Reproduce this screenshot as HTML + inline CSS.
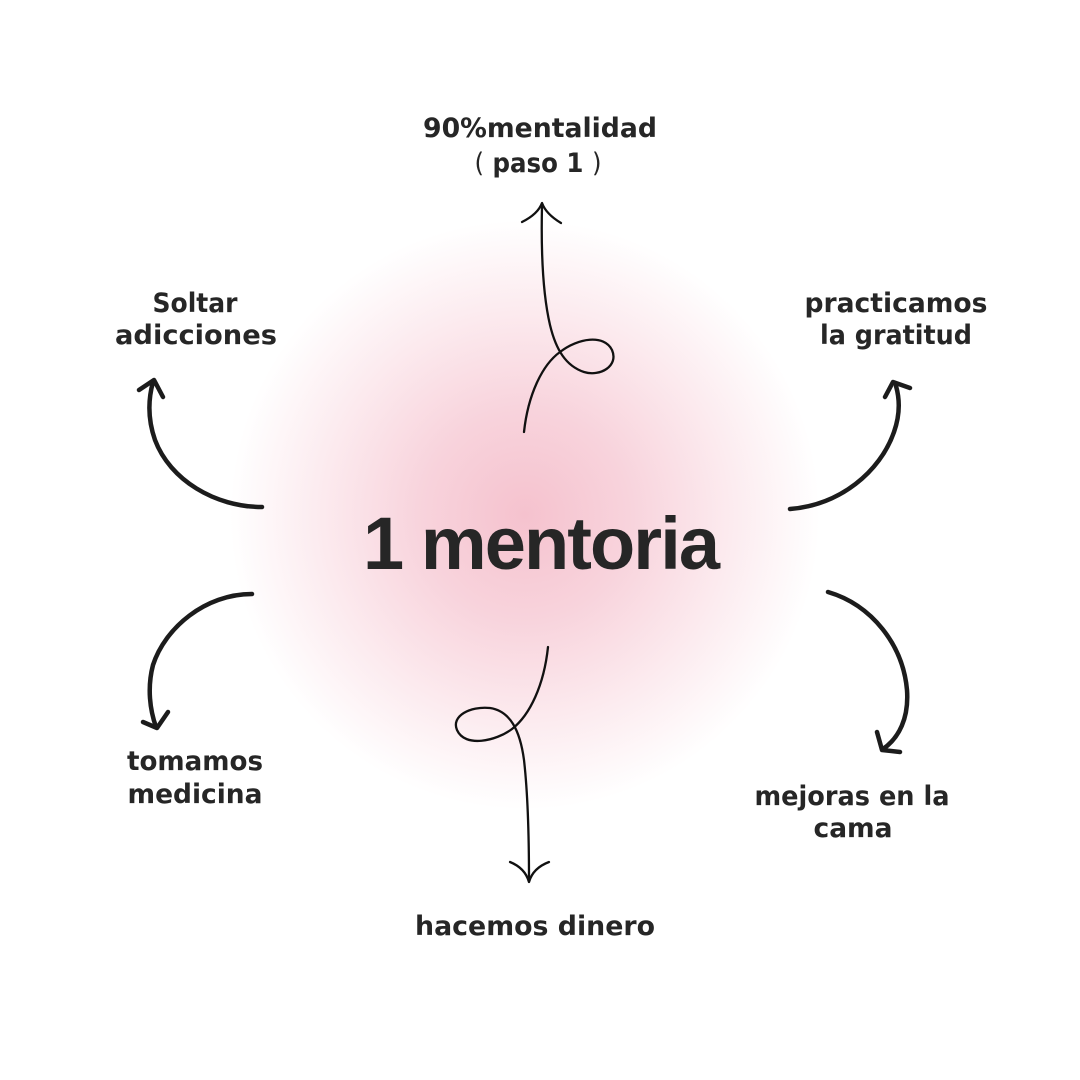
<!DOCTYPE html>
<html>
<head>
<meta charset="utf-8">
<style>
  html,body{margin:0;padding:0;background:#fff;}
  body{width:1080px;height:1080px;overflow:hidden;}
  svg{display:block;}
  .lbl{font-family:"DejaVu Sans","Liberation Sans",sans-serif;font-weight:bold;font-size:26.5px;fill:#262626;}
  .thin{font-weight:normal;}
  .big{font-family:"Liberation Sans",sans-serif;font-weight:bold;font-size:74px;fill:#262626;}
</style>
</head>
<body>
<svg width="1080" height="1080" viewBox="0 0 1080 1080" xmlns="http://www.w3.org/2000/svg">
  <defs>
    <radialGradient id="g" cx="525" cy="515" r="295" gradientUnits="userSpaceOnUse">
      <stop offset="0" stop-color="#f5c2ce"/>
      <stop offset="0.35" stop-color="#f8d3dc"/>
      <stop offset="0.7" stop-color="#fcebef"/>
      <stop offset="1" stop-color="#ffffff"/>
    </radialGradient>
  </defs>
  <rect width="1080" height="1080" fill="#fff"/>
  <circle cx="525" cy="515" r="295" fill="url(#g)"/>

  <!-- central text -->
  <text class="big" x="363" y="569" textLength="357" lengthAdjust="spacing">1 mentoria</text>

  <!-- thin loop arrows -->
  <g fill="none" stroke="#111" stroke-width="2.3" stroke-linecap="round" stroke-linejoin="round">
    <path d="M524,432 C528,395 542,365 560,352 C578,338 604,334 612,350 C619,366 600,377 584,372 C566,366 556,350 550,325 C543,295 541,250 542,206"/>
    <path d="M522,222 Q538,214 542,203 Q546,214 561,223"/>
    <path d="M548,647 C544,685 530,715 512,729 C496,741 465,748 457,730 C451,716 470,706 490,708 C510,711 520,730 524,760 C528,795 529,840 529,880"/>
    <path d="M510,862 Q525,868 529,882 Q533,868 549,862"/>
  </g>

  <!-- thick curved arrows -->
  <g fill="none" stroke="#1c1c1c" stroke-width="4.5" stroke-linecap="round" stroke-linejoin="round">
    <path d="M262,507 C215,507 170,480 155,440 C148,420 148,400 153,382"/>
    <path d="M139,390 L154,380 L163,397"/>
    <path d="M790,509 C840,505 880,472 894,432 C900,415 900,400 896,386"/>
    <path d="M885,397 L893,382 L910,388"/>
    <path d="M252,594 C205,594 165,628 153,665 C147,688 150,710 156,727"/>
    <path d="M143,722 L157,728 L168,712"/>
    <path d="M828,592 C872,605 903,645 907,690 C909,718 899,738 883,749"/>
    <path d="M877,732 L882,750 L900,752"/>
  </g>

  <!-- labels -->
  <text class="lbl" x="540" y="137" text-anchor="middle" textLength="234" lengthAdjust="spacingAndGlyphs">90%mentalidad</text>
  <text class="lbl" x="538" y="172" text-anchor="middle" textLength="127" lengthAdjust="spacingAndGlyphs"><tspan class="thin">(</tspan> paso 1 <tspan class="thin">)</tspan></text>

  <text class="lbl" x="195" y="312" text-anchor="middle" textLength="85" lengthAdjust="spacingAndGlyphs">Soltar</text>
  <text class="lbl" x="196" y="344" text-anchor="middle" textLength="162" lengthAdjust="spacingAndGlyphs">adicciones</text>

  <text class="lbl" x="896" y="312" text-anchor="middle" textLength="183" lengthAdjust="spacingAndGlyphs">practicamos</text>
  <text class="lbl" x="896" y="344" text-anchor="middle" textLength="152" lengthAdjust="spacingAndGlyphs">la gratitud</text>

  <text class="lbl" x="195" y="770" text-anchor="middle" textLength="136" lengthAdjust="spacingAndGlyphs">tomamos</text>
  <text class="lbl" x="195" y="803" text-anchor="middle" textLength="135" lengthAdjust="spacingAndGlyphs">medicina</text>

  <text class="lbl" x="852" y="805" text-anchor="middle" textLength="195" lengthAdjust="spacingAndGlyphs">mejoras en la</text>
  <text class="lbl" x="853" y="837" text-anchor="middle" textLength="79" lengthAdjust="spacingAndGlyphs">cama</text>

  <text class="lbl" x="535" y="935" text-anchor="middle" textLength="240" lengthAdjust="spacingAndGlyphs">hacemos dinero</text>
</svg>
</body>
</html>
